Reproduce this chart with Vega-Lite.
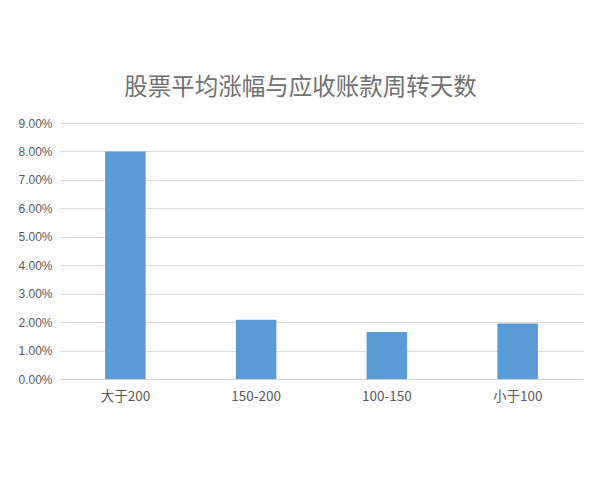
{
  "$schema": "https://vega.github.io/schema/vega-lite/v6.json",
  "autosize": {"type": "none"},
  "width": 523,
  "height": 256,
  "padding": {"left": 60, "top": 123, "right": 17, "bottom": 101},
  "background": "white",
  "title": {
    "text": "股票平均涨幅与应收账款周转天数",
    "anchor": "middle",
    "frame": "group",
    "dx": -21,
    "offset": 18,
    "font": "Noto Sans CJK SC",
    "fontSize": 23.5,
    "fontWeight": "normal",
    "color": "#707070"
  },
  "data": {
    "values": [
      {"category": "大于200", "value": 0.0800},
      {"category": "150-200", "value": 0.0208},
      {"category": "100-150", "value": 0.0165},
      {"category": "小于100", "value": 0.0195}
    ]
  },
  "mark": {"type": "bar", "color": "#5B9BD5"},
  "encoding": {
    "x": {
      "field": "category",
      "type": "nominal",
      "sort": null,
      "scale": {"paddingInner": 0.69, "paddingOuter": 0.345},
      "axis": {
        "title": null,
        "labelAngle": 0,
        "labelFont": "Noto Sans CJK SC",
        "labelFontSize": 13.5,
        "labelColor": "#595959",
        "labelPadding": 10,
        "ticks": false,
        "domain": true,
        "domainColor": "#d0d0d0",
        "grid": false
      }
    },
    "y": {
      "field": "value",
      "type": "quantitative",
      "scale": {"domain": [0, 0.09], "nice": false},
      "axis": {
        "title": null,
        "format": ".2%",
        "values": [0, 0.01, 0.02, 0.03, 0.04, 0.05, 0.06, 0.07, 0.08, 0.09],
        "labelFont": "Liberation Sans",
        "labelFontSize": 12,
        "labelColor": "#595959",
        "labelPadding": 8,
        "ticks": false,
        "domain": false,
        "grid": true,
        "gridColor": "#d9d9d9"
      }
    }
  },
  "config": {"view": {"stroke": null}}
}
